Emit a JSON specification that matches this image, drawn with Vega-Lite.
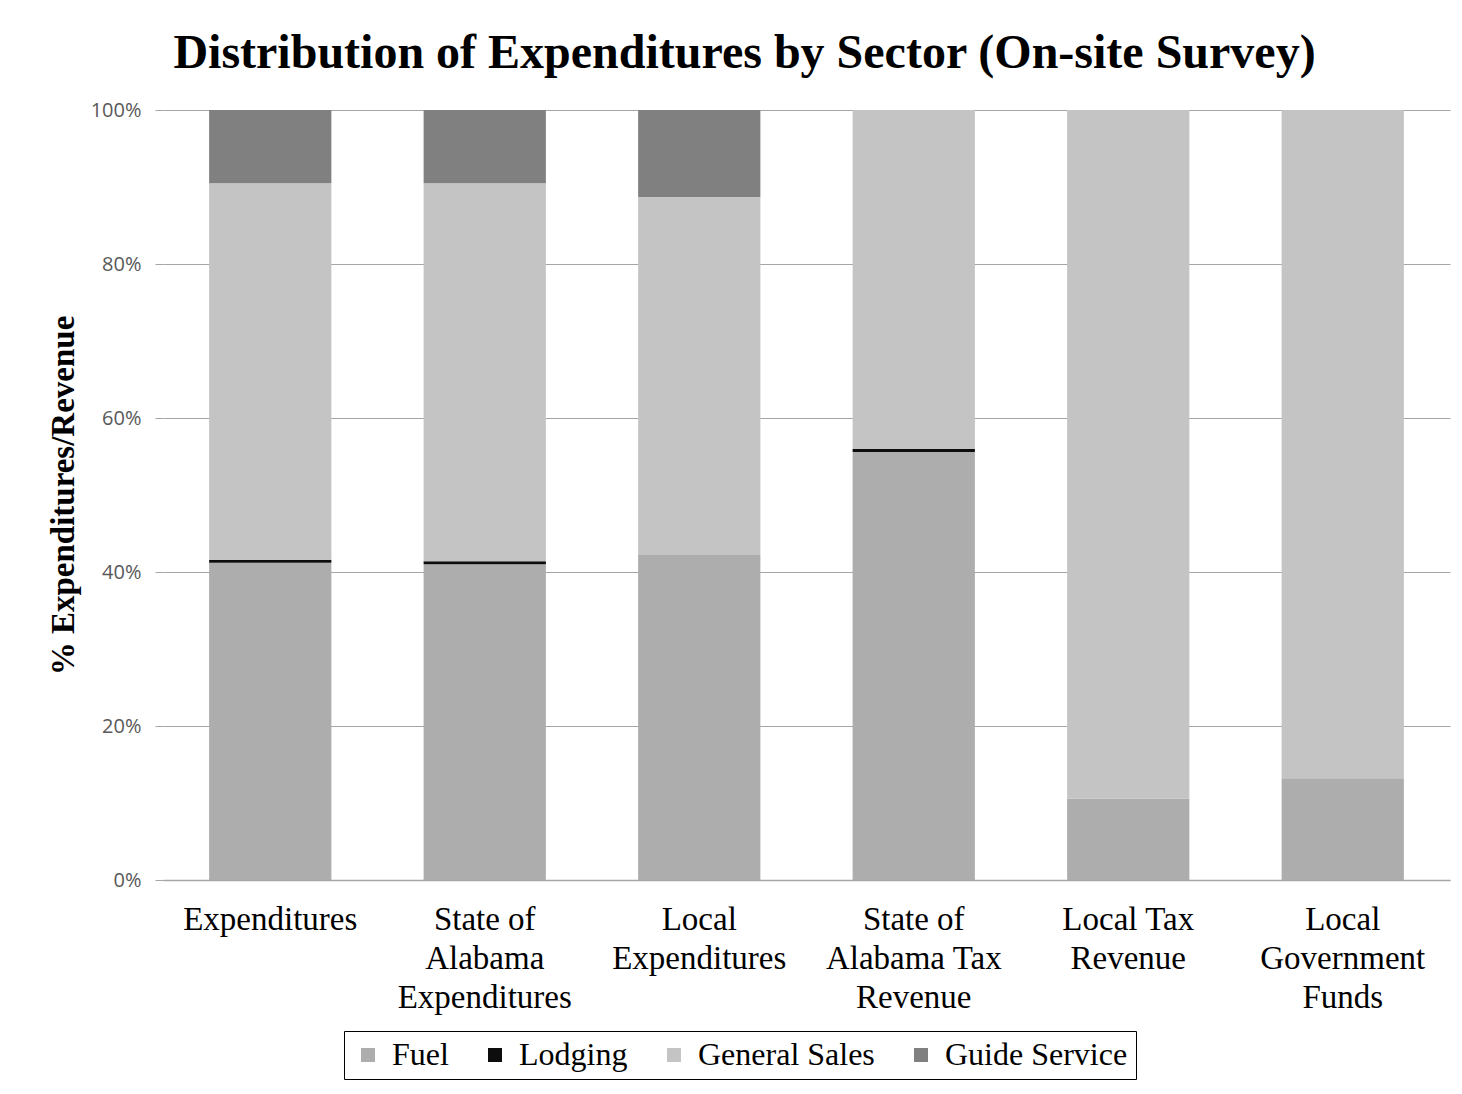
{
  "$schema": "https://vega.github.io/schema/vega-lite/v6.json",
  "width": 1287,
  "height": 770,
  "autosize": {"type": "none"},
  "padding": {"left": 163, "top": 110, "right": 12, "bottom": 214},
  "background": "white",
  "title": {
    "text": "Distribution of Expenditures by Sector (On-site Survey)",
    "font": "Liberation Serif",
    "fontSize": 48,
    "fontWeight": "bold",
    "color": "black",
    "anchor": "middle",
    "dx": -62,
    "offset": 22
  },
  "data": {
    "values": [
      {"sector": "Expenditures", "category": "Fuel", "rank": 1, "share": 41.2},
      {"sector": "Expenditures", "category": "Lodging", "rank": 2, "share": 0.4},
      {"sector": "Expenditures", "category": "General Sales", "rank": 3, "share": 48.9},
      {"sector": "Expenditures", "category": "Guide Service", "rank": 4, "share": 9.5},
      {"sector": "State of Alabama Expenditures", "category": "Fuel", "rank": 1, "share": 41.0},
      {"sector": "State of Alabama Expenditures", "category": "Lodging", "rank": 2, "share": 0.4},
      {"sector": "State of Alabama Expenditures", "category": "General Sales", "rank": 3, "share": 49.1},
      {"sector": "State of Alabama Expenditures", "category": "Guide Service", "rank": 4, "share": 9.5},
      {"sector": "Local Expenditures", "category": "Fuel", "rank": 1, "share": 42.2},
      {"sector": "Local Expenditures", "category": "Lodging", "rank": 2, "share": 0.0},
      {"sector": "Local Expenditures", "category": "General Sales", "rank": 3, "share": 46.5},
      {"sector": "Local Expenditures", "category": "Guide Service", "rank": 4, "share": 11.3},
      {"sector": "State of Alabama Tax Revenue", "category": "Fuel", "rank": 1, "share": 55.6},
      {"sector": "State of Alabama Tax Revenue", "category": "Lodging", "rank": 2, "share": 0.4},
      {"sector": "State of Alabama Tax Revenue", "category": "General Sales", "rank": 3, "share": 44.0},
      {"sector": "State of Alabama Tax Revenue", "category": "Guide Service", "rank": 4, "share": 0.0},
      {"sector": "Local Tax Revenue", "category": "Fuel", "rank": 1, "share": 10.6},
      {"sector": "Local Tax Revenue", "category": "Lodging", "rank": 2, "share": 0.0},
      {"sector": "Local Tax Revenue", "category": "General Sales", "rank": 3, "share": 89.4},
      {"sector": "Local Tax Revenue", "category": "Guide Service", "rank": 4, "share": 0.0},
      {"sector": "Local Government Funds", "category": "Fuel", "rank": 1, "share": 13.2},
      {"sector": "Local Government Funds", "category": "Lodging", "rank": 2, "share": 0.0},
      {"sector": "Local Government Funds", "category": "General Sales", "rank": 3, "share": 86.8},
      {"sector": "Local Government Funds", "category": "Guide Service", "rank": 4, "share": 0.0}
    ]
  },
  "mark": {"type": "bar"},
  "encoding": {
    "x": {
      "field": "sector",
      "type": "nominal",
      "sort": ["Expenditures", "State of Alabama Expenditures", "Local Expenditures", "State of Alabama Tax Revenue", "Local Tax Revenue", "Local Government Funds"],
      "scale": {"paddingInner": 0.43, "paddingOuter": 0.215},
      "axis": {
        "title": null,
        "labelAngle": 0,
        "labelFont": "Liberation Serif",
        "labelFontSize": 33,
        "labelColor": "black",
        "labelLineHeight": 39,
        "labelPadding": 23,
        "labelBaseline": "top",
        "ticks": false,
        "domainColor": "#a6a6a6",
        "domainWidth": 1.5,
        "labelExpr": "{'Expenditures':['Expenditures'],'State of Alabama Expenditures':['State of','Alabama','Expenditures'],'Local Expenditures':['Local','Expenditures'],'State of Alabama Tax Revenue':['State of','Alabama Tax','Revenue'],'Local Tax Revenue':['Local Tax','Revenue'],'Local Government Funds':['Local','Government','Funds']}[datum.label]"
      }
    },
    "y": {
      "field": "share",
      "type": "quantitative",
      "stack": "zero",
      "scale": {"domain": [0, 100]},
      "axis": {
        "values": [0, 20, 40, 60, 80, 100],
        "labelExpr": "datum.value + '%'",
        "grid": true,
        "gridColor": "#a6a6a6",
        "domain": false,
        "ticks": true,
        "tickColor": "#a6a6a6",
        "tickSize": 8,
        "labelFont": "Open Sans",
        "labelFontSize": 20,
        "labelColor": "#595959",
        "labelPadding": 14,
        "title": "% Expenditures/Revenue",
        "titleFont": "Liberation Serif",
        "titleFontSize": 33,
        "titleFontWeight": "bold",
        "titleColor": "black",
        "titlePadding": 10
      }
    },
    "color": {
      "field": "category",
      "type": "nominal",
      "scale": {
        "domain": ["Fuel", "Lodging", "General Sales", "Guide Service"],
        "range": ["#adadad", "#0d0d0d", "#c4c4c4", "#808080"]
      },
      "legend": {
        "orient": "none",
        "legendX": 181,
        "legendY": 921,
        "direction": "horizontal",
        "columns": 4,
        "title": null,
        "strokeColor": "black",
        "fillColor": "white",
        "padding": 8,
        "symbolType": "square",
        "symbolSize": 196,
        "symbolStrokeWidth": 0,
        "labelFont": "Liberation Serif",
        "labelFontSize": 32,
        "labelColor": "black",
        "labelOffset": 8,
        "columnPadding": 30,
        "labelLimit": 400
      }
    },
    "order": {"field": "rank", "type": "quantitative"}
  },
  "config": {"view": {"stroke": null}}
}
